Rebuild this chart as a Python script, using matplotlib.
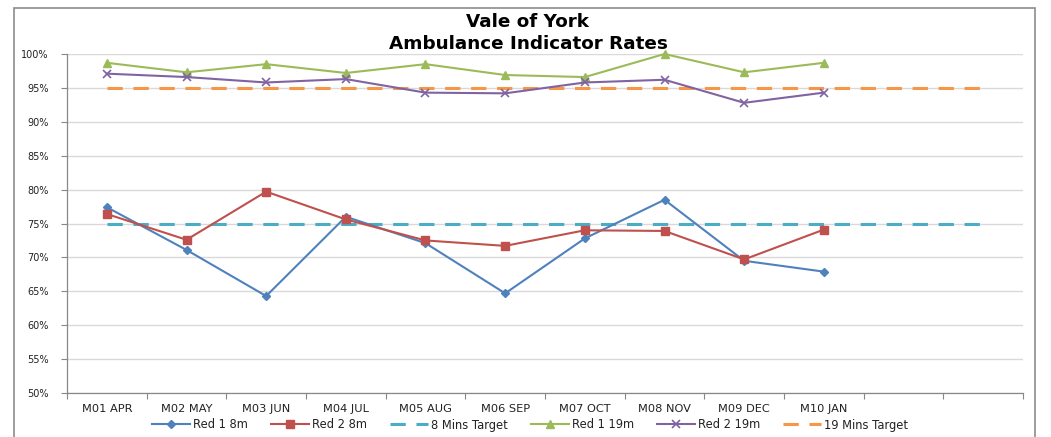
import matplotlib
matplotlib.use("Agg")
import matplotlib.pyplot as plt
from matplotlib.patches import Rectangle
from matplotlib.ticker import FuncFormatter, MultipleLocator, FixedLocator

categories = ["M01 APR", "M02 MAY", "M03 JUN", "M04 JUL", "M05 AUG", "M06 SEP",
              "M07 OCT", "M08 NOV", "M09 DEC", "M10 JAN", "", ""]
red1_8m = [77.4, 71.1, 64.3, 76.0, 72.1, 64.7, 72.8, 78.5, 69.5, 67.9]
red2_8m = [76.4, 72.6, 79.7, 75.6, 72.5, 71.7, 74.0, 73.9, 69.7, 74.1]
red1_19m = [98.7, 97.3, 98.5, 97.2, 98.5, 96.9, 96.6, 100.0, 97.3, 98.7]
red2_19m = [97.1, 96.6, 95.8, 96.3, 94.3, 94.2, 95.8, 96.2, 92.8, 94.3]
target_8m = [75] * 12
target_19m = [95] * 12

plt.rcParams['font.family'] = ['DejaVu Sans']

fig = plt.figure(figsize=(10.51, 4.37), dpi=100)
ax = fig.add_axes([67/1051, 1-393/437, (1023-67)/1051, (393-54)/437])

x_all = list(range(len(categories)))
x10 = x_all[:len(red1_8m)]

lw = 1.5
l1, = ax.plot(x10, red1_8m, color="#4F81BD", lw=lw, marker="D", ms=4.5, label="Red 1 8m", clip_on=False, zorder=5)
l2, = ax.plot(x10, red2_8m, color="#C0504D", lw=lw, marker="s", ms=6, label="Red 2 8m", clip_on=False, zorder=5)
l3, = ax.plot(x_all, target_8m, color="#4BACC6", lw=2.2, ls=(0, (5, 3.5)), label="8 Mins Target", zorder=4)
l4, = ax.plot(x10, red1_19m, color="#9BBB59", lw=lw, marker="^", ms=6, label="Red 1 19m", clip_on=False, zorder=5)
l5, = ax.plot(x10, red2_19m, color="#8064A2", lw=lw, marker="x", ms=6, mew=1.2, label="Red 2 19m", clip_on=False, zorder=5)
l6, = ax.plot(x_all, target_19m, color="#F79646", lw=2.2, ls=(0, (5, 3.5)), label="19 Mins Target", zorder=4)

ax.set_xlim(-0.5, len(categories) - 0.5)
ax.set_ylim(50, 100)
ax.yaxis.set_major_locator(MultipleLocator(5))
ax.yaxis.set_major_formatter(FuncFormatter(lambda v, p: f"{int(round(v))}%"))
ax.xaxis.set_major_locator(FixedLocator(x_all))
ax.set_xticklabels(categories)
ax.xaxis.set_minor_locator(FixedLocator([i - 0.5 for i in range(len(categories) + 1)]))
ax.tick_params(axis='x', which='major', length=0, pad=8, labelsize=8.2, colors="#222222")
ax.tick_params(axis='x', which='minor', length=4, width=0.8, color="#888888", direction='out')
ax.tick_params(axis='y', which='major', length=4, width=0.8, color="#888888", labelsize=7, labelcolor="#222222", pad=9)

ax.grid(axis='y', color="#D9D9D9", lw=1.0)
ax.set_axisbelow(True)
for s in ["top", "right"]:
    ax.spines[s].set_visible(False)
for s in ["left", "bottom"]:
    ax.spines[s].set_color("#888888")
    ax.spines[s].set_linewidth(0.9)

fig.text(528/1051, 1-22/437, "Vale of York", ha="center", va="center", fontsize=13.2, fontweight="bold")
fig.text(528/1051, 1-44/437, "Ambulance Indicator Rates", ha="center", va="center", fontsize=13.2, fontweight="bold")

leg = fig.legend(handles=[l1, l2, l3, l4, l5, l6], loc="center", bbox_to_anchor=(530/1051, 1-425/437),
                 ncol=6, frameon=False, fontsize=8.3, handlelength=3.3, columnspacing=2.0, handletextpad=0.25,
                 borderpad=0.2)
for t in leg.get_texts():
    t.set_color("#222222")

fig.patches.append(Rectangle((14/1051, -0.05), (1035-14)/1051, 1.05 - 8/437, transform=fig.transFigure,
                             fill=False, edgecolor="#8C8C8C", lw=1.2))

fig.savefig("out.png", dpi=100)
